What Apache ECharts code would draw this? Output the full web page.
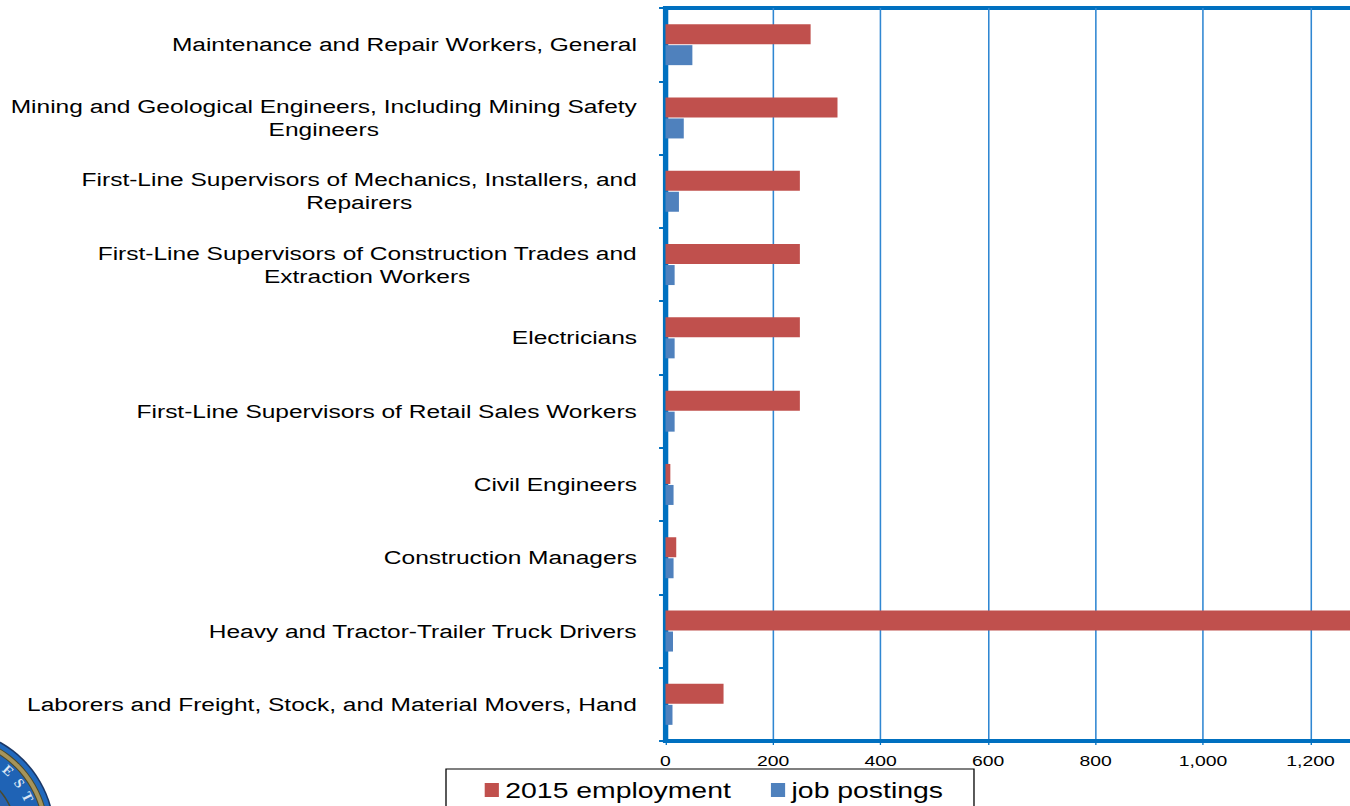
<!DOCTYPE html>
<html>
<head>
<meta charset="utf-8">
<script src="https://cdn.jsdelivr.net/npm/echarts@6.0.0/dist/echarts.min.js"></script>
<style>
html, body { margin: 0; padding: 0; background: #fff; overflow: hidden; }
/* the source picture is stretched sideways, so the chart is drawn narrow and widened */
#main { width: 1046.5px; height: 806px; transform: scaleX(1.29); transform-origin: 0 0; }
</style>
</head>
<body>
<div id="main"></div>
<script>
const categories = [
    'Maintenance and Repair Workers, General',
    'Mining and Geological Engineers, Including Mining Safety\nEngineers',
    'First-Line Supervisors of Mechanics, Installers, and\nRepairers',
    'First-Line Supervisors of Construction Trades and\nExtraction Workers',
    'Electricians',
    'First-Line Supervisors of Retail Sales Workers',
    'Civil Engineers',
    'Construction Managers',
    'Heavy and Tractor-Trailer Truck Drivers',
    'Laborers and Freight, Stock, and Material Movers, Hand'
];
const employment = [270, 320, 250, 250, 250, 250, 9, 20, 1330, 108];
const postings = [50, 34, 25, 17, 17, 17, 15, 15, 14, 13];
const xTicks = [0, 200, 400, 600, 800, 1000, 1200, 1400];

const SX = 1.29;
const BLUE_LINE = '#0070C0';

function addCommas(v){
    return String(v).replace(/\B(?=(\d{3})+(?!\d))/g, ',');
}

// seal in the lower left corner, mostly off the page
function sealParts(){
    const rings = [
        [107, '#1b3766'], [105.5, '#2169bd'], [101, '#4b4a2c'], [100, '#a6945a'],
        [96, '#4b4a2c'], [95, '#1f63b5'], [69, '#4b4a2c'], [67.5, '#2a62ad']
    ];
    const parts = rings.map(r => ({
        type: 'circle',
        shape: {cx: 0, cy: 0, r: r[0]},
        style: {fill: r[1]}
    }));
    const letters = [['E', -47], ['S', -36], ['T', -25.5]];
    letters.forEach(l => {
        const a = l[1] * Math.PI / 180;
        parts.push({
            type: 'text',
            x: 88 * Math.cos(a),
            y: 88 * Math.sin(a),
            rotation: -(l[1] + 90) * Math.PI / 180,
            style: {
                text: l[0], fill: '#dce6f4', fontSize: 14, fontWeight: 'bold',
                fontFamily: 'Liberation Serif', align: 'center', verticalAlign: 'middle'
            }
        });
    });
    return parts;
}

const chart = echarts.init(document.getElementById('main'), null, {renderer: 'svg'});
const option = {
    animation: false,
    backgroundColor: '#fff',
    textStyle: {fontFamily: 'Liberation Sans, Arial, sans-serif'},
    grid: {
        left: 665.5 / SX,
        top: 8,
        width: (1418 - 665.5) / SX,
        height: 733,
        show: true,
        borderColor: BLUE_LINE,
        borderWidth: 4,
        outerBoundsMode: 'none',
        containLabel: false
    },
    legend: {
        left: 446 / SX,
        top: 769,
        orient: 'horizontal',
        icon: 'rect',
        itemWidth: 11,
        itemHeight: 14,
        itemGap: 31,
        padding: [10, 24, 20, 30],
        borderColor: '#000',
        borderWidth: 1,
        textStyle: {fontSize: 22, color: '#000'},
        data: ['2015 employment', 'job postings']
    },
    xAxis: {
        type: 'value',
        min: xTicks[0],
        max: xTicks[xTicks.length - 1],
        interval: xTicks[1] - xTicks[0],
        axisLine: {show: true, lineStyle: {color: BLUE_LINE, width: 4}},
        axisTick: {show: true, length: 4, lineStyle: {color: BLUE_LINE, width: 1}},
        splitLine: {show: true, lineStyle: {color: '#2F87D2', width: 1.2}},
        axisLabel: {
            fontSize: 15,
            color: '#000',
            margin: 12,
            showMaxLabel: false,
            formatter: addCommas
        }
    },
    yAxis: {
        type: 'category',
        data: categories,
        inverse: true,
        axisLine: {show: true, lineStyle: {color: BLUE_LINE, width: 4}},
        axisTick: {show: true, length: 5, lineStyle: {color: BLUE_LINE, width: 2}},
        splitLine: {show: false},
        axisLabel: {
            interval: 0,
            margin: 22,
            color: '#000',
            fontSize: 19,
            lineHeight: 23,
            formatter: v => v.split('\n').map(t => '{c|' + t + '}').join('\n'),
            rich: {
                c: {align: 'center', fontSize: 19, lineHeight: 23, color: '#000'}
            }
        }
    },
    series: [{
        name: '2015 employment',
        type: 'bar',
        data: employment,
        barWidth: 20,
        barGap: '5%',
        itemStyle: {color: '#C0504D'}
    }, {
        name: 'job postings',
        type: 'bar',
        data: postings,
        barWidth: 20,
        barGap: '5%',
        itemStyle: {color: '#4F81BD'}
    }],
    graphic: [{
        type: 'group',
        x: -52 / SX,
        y: 835,
        scaleX: 1 / SX,
        silent: true,
        children: sealParts()
    }]
};
chart.setOption(option);
</script>
</body>
</html>
